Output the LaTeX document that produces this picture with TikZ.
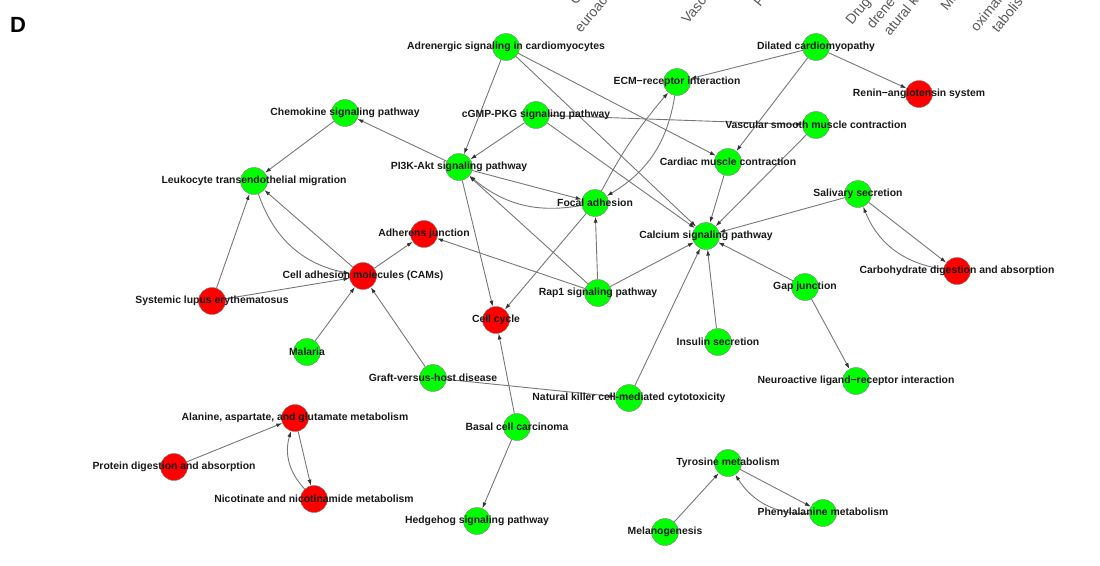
\documentclass[tikz,border=0pt]{standalone}
\usepackage{fontspec}
\setmainfont{Liberation Sans}
\usetikzlibrary{arrows.meta}
\definecolor{upg}{HTML}{00FF00}
\definecolor{dnr}{HTML}{FF0000}
\definecolor{lnkc}{HTML}{777777}
\pgfdeclarelayer{back}
\pgfsetlayers{back,main}

\begin{document}
\begin{tikzpicture}[>={Latex[length=6pt,width=4pt,color=black!80]},x=1pt,y=-1pt,
    gp/.style={circle,draw=gray,line width=0.4pt,fill=upg,minimum size=27pt,inner sep=0pt},
    rp/.style={gp,fill=dnr},
    lab/.style={font=\bfseries\fontsize{10.4}{12}\selectfont,text=black!90,inner sep=0pt},
    frag/.style={rotate=51,anchor=base west,inner sep=0pt,text=black!65,font=\fontsize{14}{14}\selectfont},
    lnk/.style={->,draw=lnkc,line width=0.9pt}]
    \useasboundingbox (0,0) rectangle (1100,565);
    \node at (18,25) (pnl){\bfseries\fontsize{22}{24}\selectfont D};
    \node at (576,6)[frag] (f1){C};
    \node at (581,34)[frag] (f2){euroac};
    \node at (688,25)[frag] (f3){Vasc};
    \node at (760,8)[frag] (f4){P};
    \node at (852,26)[frag] (f5){Drug};
    \node at (873,30)[frag] (f6){drene};
    \node at (890,37)[frag] (f7){atural k};
    \node at (947,12)[frag] (f8){Mu};
    \node at (977,33)[frag] (f9){oximal};
    \node at (998,34)[frag] (f10){tabolis};

    \node at (506,47)[gp,label={[lab]center:Adrenergic signaling in cardiomyocytes}] (adr){};
    \node at (816,47)[gp,label={[lab]center:Dilated cardiomyopathy}] (dil){};
    \node at (677,82)[gp,label={[lab]center:ECM−receptor interaction}] (ecm){};
    \node at (919,94)[rp,label={[lab]center:Renin−angiotensin system}] (ren){};
    \node at (345,113)[gp,label={[lab]center:Chemokine signaling pathway}] (che){};
    \node at (536,115)[gp,label={[lab]center:cGMP-PKG signaling pathway}] (cgm){};
    \node at (816,125)[gp,label={[lab]center:Vascular smooth muscle contraction}] (vsm){};
    \node at (459,167)[gp,label={[lab]center:PI3K-Akt signaling pathway}] (pik){};
    \node at (728,162)[gp,label={[lab]center:Cardiac muscle contraction}] (cmc){};
    \node at (254,181)[gp,label={[lab]center:Leukocyte transendothelial migration}] (leu){};
    \node at (595,203)[gp,label={[lab]center:Focal adhesion}] (foc){};
    \node at (858,194)[gp,label={[lab]center:Salivary secretion}] (sal){};
    \node at (424,234)[rp,label={[lab]center:Adherens junction}] (adh){};
    \node at (706,236)[gp,label={[lab]center:Calcium signaling pathway}] (cal){};
    \node at (363,276)[rp,label={[lab]center:Cell adhesion molecules (CAMs)}] (cam){};
    \node at (957,271)[rp,label={[lab]center:Carbohydrate digestion and absorption}] (car){};
    \node at (212,301)[rp,label={[lab]center:Systemic lupus erythematosus}] (sle){};
    \node at (598,293)[gp,label={[lab]center:Rap1 signaling pathway}] (rap){};
    \node at (805,287)[gp,label={[lab]center:Gap junction}] (gap){};
    \node at (496,320)[rp,label={[lab]center:Cell cycle}] (ccy){};
    \node at (307,352)[gp,label={[lab]center:Malaria}] (mal){};
    \node at (718,342)[gp,label={[lab]center:Insulin secretion}] (ins){};
    \node at (433,378)[gp,label={[lab]center:Graft-versus-host disease}] (gvh){};
    \node at (629,398)[gp,label={[lab]center:Natural killer cell-mediated cytotoxicity}] (nkc){};
    \node at (856,381)[gp,label={[lab]center:Neuroactive ligand−receptor interaction}] (nal){};
    \node at (295,418)[rp,label={[lab]center:{Alanine, aspartate, and glutamate metabolism}}] (ala){};
    \node at (517,427)[gp,label={[lab]center:Basal cell carcinoma}] (bcc){};
    \node at (174,467)[rp,label={[lab]center:Protein digestion and absorption}] (pro){};
    \node at (728,463)[gp,label={[lab]center:Tyrosine metabolism}] (tyr){};
    \node at (314,499)[rp,label={[lab]center:Nicotinate and nicotinamide metabolism}] (nic){};
    \node at (823,513)[gp,label={[lab]center:Phenylalanine metabolism}] (phe){};
    \node at (477,521)[gp,label={[lab]center:Hedgehog signaling pathway}] (hed){};
    \node at (665,532)[gp,label={[lab]center:Melanogenesis}] (mel){};

    \begin{pgfonlayer}{back}
    \draw[lnk] (adr) -- (pik);
    \draw[lnk] (adr) -- (cmc);
    \draw[lnk] (adr) -- (cal);
    \draw[lnk] (cgm) -- (pik);
    \draw[lnk] (cgm) -- (vsm);
    \draw[lnk] (cgm) -- (cal);
    \draw[lnk] (dil) -- (ecm);
    \draw[lnk] (dil) -- (cmc);
    \draw[lnk] (dil) -- (ren);
    \draw[lnk] (ecm) to[bend left=25] (foc);
    \draw[lnk] (foc) to[bend left=6] (ecm);
    \draw[lnk] (vsm) -- (cal);
    \draw[lnk] (cmc) -- (cal);
    \draw[lnk] (pik) -- (che);
    \draw[lnk] (che) -- (leu);
    \draw[lnk] (pik) -- (foc);
    \draw[lnk] (foc) to[bend left=25] (pik);
    \draw[lnk] (pik) -- (ccy);
    \draw[lnk] (foc) -- (ccy);
    \draw[lnk] (rap) -- (foc);
    \draw[lnk] (rap) -- (cal);
    \draw[lnk] (rap) -- (adh);
    \draw[lnk] (rap) -- (pik);
    \draw[lnk] (sal) -- (cal);
    \draw[lnk] (sal) -- (car);
    \draw[lnk] (car) to[bend left=30] (sal);
    \draw[lnk] (gap) -- (cal);
    \draw[lnk] (gap) -- (nal);
    \draw[lnk] (ins) -- (cal);
    \draw[lnk] (nkc) -- (cal);
    \draw[lnk] (gvh) -- (nkc);
    \draw[lnk] (gvh) -- (cam);
    \draw[lnk] (mal) -- (cam);
    \draw[lnk] (sle) -- (cam);
    \draw[lnk] (sle) -- (leu);
    \draw[lnk] (cam) -- (leu);
    \draw[lnk] (leu) to[bend right=30] (cam);
    \draw[lnk] (cam) -- (adh);
    \draw[lnk] (bcc) -- (ccy);
    \draw[lnk] (bcc) -- (hed);
    \draw[lnk] (pro) -- (ala);
    \draw[lnk] (ala) -- (nic);
    \draw[lnk] (nic) to[bend left=30] (ala);
    \draw[lnk] (mel) -- (tyr);
    \draw[lnk] (tyr) -- (phe);
    \draw[lnk] (phe) to[bend left=30] (tyr);
    \end{pgfonlayer}
  \end{tikzpicture}
\end{document}
